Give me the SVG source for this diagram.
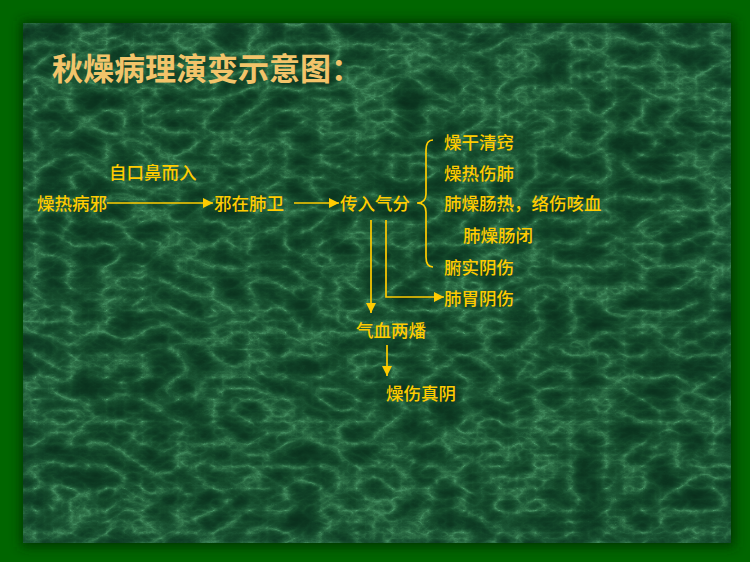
<svg xmlns="http://www.w3.org/2000/svg" width="750" height="562" viewBox="0 0 750 562">
<defs>
<filter id="marble" x="0" y="0" width="100%" height="100%" color-interpolation-filters="sRGB">
<feTurbulence type="turbulence" baseFrequency="0.028 0.045" numOctaves="6" seed="11" result="n"/>
<feColorMatrix in="n" type="matrix" values="1 0 0 0 0  1 0 0 0 0  1 0 0 0 0  0 0 0 0 1" result="g"/>
<feComponentTransfer in="g">
<feFuncR type="table" tableValues="0.3 0.18 0.11 0.08 0.06 0.05 0.04 0.04"/>
<feFuncG type="table" tableValues="0.6 0.44 0.34 0.29 0.25 0.22 0.2 0.18"/>
<feFuncB type="table" tableValues="0.42 0.28 0.21 0.17 0.15 0.13 0.12 0.11"/>
</feComponentTransfer>
</filter>
<filter id="shadow" x="-10%" y="-10%" width="120%" height="120%">
<feGaussianBlur stdDeviation="6"/>
</filter>
<marker id="ah" viewBox="0 0 10 10" refX="10" refY="5" markerWidth="10" markerHeight="10" markerUnits="userSpaceOnUse" orient="auto">
<path d="M0,0 L10,5 L0,10 Z" fill="#ffcc00"/>
</marker>
<style>
.t{font-family:"Noto Sans CJK SC","Noto Sans CJK JP",sans-serif;font-size:17.5px;font-weight:500;fill:#ffcc00;}
.title{font-family:"Noto Sans CJK SC","Noto Sans CJK JP",sans-serif;font-size:31px;font-weight:bold;fill:#f2c46a;}
.c{stroke:#ffcc00;stroke-width:1.7;fill:none;}
</style>
</defs>
<rect x="0" y="0" width="750" height="562" fill="#006600"/>
<rect x="21" y="21" width="714" height="526" fill="#002a00" opacity="0.8" filter="url(#shadow)"/>
<rect x="23" y="23" width="708" height="520" fill="#1f5a36"/>
<rect x="23" y="23" width="708" height="520" filter="url(#marble)"/>
<text class="title" x="52" y="80">秋燥病理演变示意图：</text>
<g id="connectors">
<line class="c" x1="107" y1="203" x2="213" y2="203" marker-end="url(#ah)"/>
<line class="c" x1="294" y1="203" x2="339" y2="203" marker-end="url(#ah)"/>
<path class="c" d="M433,140 Q426,140 426,150 L426,194 Q426,203 417,203 Q426,203 426,212 L426,257 Q426,267 433,267"/>
<line class="c" x1="371" y1="220" x2="371" y2="313" marker-end="url(#ah)"/>
<polyline class="c" points="386,220 386,297 444,297" marker-end="url(#ah)"/>
<line class="c" x1="387" y1="345" x2="387" y2="376" marker-end="url(#ah)"/>
</g>
<g id="n1"><text class="t" x="37" y="210">燥热病邪</text></g>
<g id="n1label"><text class="t" x="109" y="179">自口鼻而入</text></g>
<g id="n2"><text class="t" x="214" y="210">邪在肺卫</text></g>
<g id="n3"><text class="t" x="340" y="210">传入气分</text></g>
<g id="r1"><text class="t" x="444" y="149">燥干清窍</text></g>
<g id="r2"><text class="t" x="444" y="180">燥热伤肺</text></g>
<g id="r3"><text class="t" x="444" y="210">肺燥肠热，络伤咳血</text></g>
<g id="r4"><text class="t" x="463" y="242">肺燥肠闭</text></g>
<g id="r5"><text class="t" x="444" y="274">腑实阴伤</text></g>
<g id="r6"><text class="t" x="444" y="305">肺胃阴伤</text></g>
<g id="n4"><text class="t" x="356" y="337">气血两燔</text></g>
<g id="n5"><text class="t" x="386" y="400">燥伤真阴</text></g>
</svg>
